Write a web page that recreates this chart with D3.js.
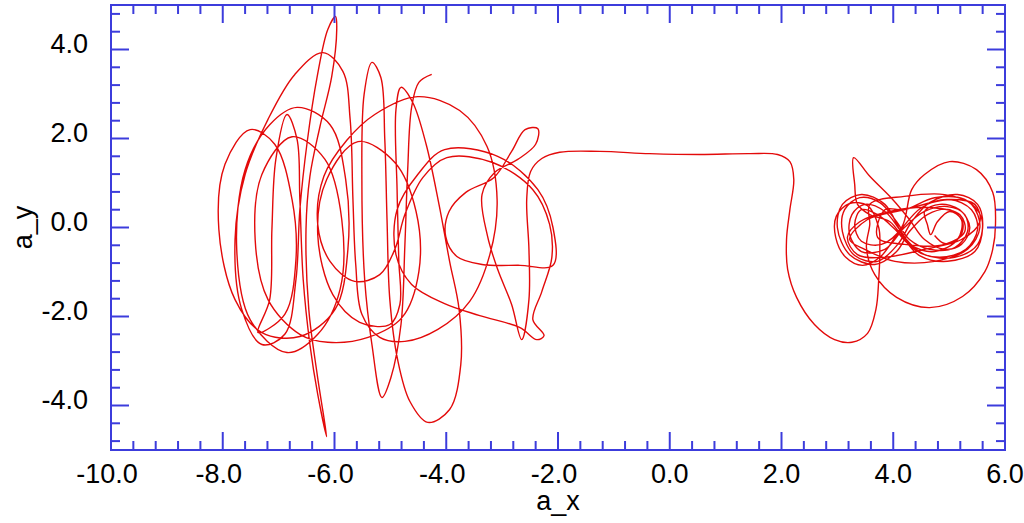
<!DOCTYPE html>
<html>
<head>
<meta charset="utf-8">
<script src="https://cdn.jsdelivr.net/npm/d3@7"></script>
<style>
  body { margin: 0; background: #fff; }
  text { font-family: "Liberation Sans", Arial, sans-serif; }
</style>
</head>
<body>
<div id="chart"></div>
<script>
// trajectory (a_x, a_y), in order
var leftCluster = [
  [-4.26,3.44],[-4.49,3.26],[-4.62,2.70],[-4.69,1.30],[-4.74,-0.38],[-4.81,-2.18],[-4.99,-3.37],[-5.15,-3.82],
  [-5.33,-2.63],[-5.46,-1.17],[-5.51,1.08],[-5.47,2.99],[-5.33,3.71],[-5.17,3.37],[-5.10,1.98],[-5.06,0.18],
  [-5.01,-1.62],[-4.87,-2.97],[-4.65,-3.91],[-4.33,-4.38],[-3.94,-4.09],[-3.74,-3.08],[-3.77,-1.84],[-3.94,-0.76],
  [-4.13,0.52],[-4.36,1.87],[-4.60,2.81],[-4.81,3.15],[-4.90,2.65],[-4.88,0.85],[-4.85,-0.72],[-4.83,-1.73],
  [-5.01,-2.18],[-5.55,-2.13],[-6.03,-1.51],[-6.30,-0.16],[-6.14,1.08],[-5.58,1.93],[-4.92,1.46],[-4.54,0.36],
  [-4.49,-0.99],[-4.79,-2.02],[-5.40,-2.47],
  [-6.12,-2.58],[-6.62,-2.40],[-7.19,-1.62],[-7.42,-0.27],[-7.30,1.19],[-6.76,2.04],[-6.17,1.53],[-5.87,0.18],
  [-5.90,-1.39],[-6.30,-2.40],[-6.85,-2.81],[-7.51,-2.07],[-7.75,-0.49],[-7.60,1.30],[-7.16,2.31],[-6.67,2.70],
  [-6.08,2.31],[-5.80,1.08],[-5.76,-0.49],[-5.99,-1.84],[-6.62,-2.45],[-7.30,-2.36],[-7.78,-1.62],[-8.07,-0.04],
  [-7.96,1.42],[-7.51,2.20],[-7.07,1.87],[-6.76,0.63],[-6.69,-0.72],[-6.89,-1.95],[-7.37,-2.36],
  [-7.16,-1.62],[-7.12,-0.04],[-7.05,1.53],[-6.85,2.54],[-6.67,1.98],[-6.62,0.63],
  [-6.56,-1.17],[-6.44,-2.63],[-6.30,-3.75],[-6.14,-4.70],[-6.31,-3.30],[-6.46,-1.84],[-6.51,-0.04],[-6.44,1.15],
  [-6.26,2.27],[-6.05,3.39],[-5.96,4.45],[-5.98,4.74],[-6.12,4.45],[-6.31,3.39],[-6.49,1.91],[-6.62,0.40],
  [-6.69,-1.17],[-6.89,-2.40],[-7.30,-2.63],[-7.66,-1.84],[-7.78,-0.27],[-7.60,1.19],[-7.19,2.43],[-6.71,3.44],
  [-6.21,3.93],[-5.85,3.51],[-5.72,2.43],[-5.67,0.63],[-5.62,-0.83],[-5.51,-1.95],
  [-5.19,-2.47],[-4.74,-2.56],[-4.15,-2.29],[-3.58,-1.66],[-3.22,-0.61],[-3.09,0.63],[-3.27,1.82],[-3.76,2.63],
  [-4.51,2.94],[-5.28,2.54],[-5.78,1.96],[-6.19,1.15],[-6.30,0.07],[-6.08,-0.76],[-5.64,-1.21],[-5.19,-1.06],
  [-4.92,-0.49],[-4.74,0.29],[-4.42,1.12],[-3.99,1.57],[-3.17,1.46],[-2.45,0.85],[-2.15,0.07],[-2.11,-0.67],
  [-2.29,-1.44],[-2.45,-2.07],[-2.25,-2.43],[-2.38,-2.52],[-2.68,-2.25],[-3.40,-1.98],[-4.03,-1.71],[-4.62,-1.28],
  [-4.90,-0.61],[-4.88,0.40],[-4.51,1.19],[-4.03,1.75],[-3.08,1.60],[-2.36,0.85],[-2.09,0.00],[-2.09,-0.85],
  [-2.68,-0.85],[-3.36,-0.83],[-3.81,-0.65],[-4.01,-0.20],[-3.95,0.36],[-3.65,0.79],[-3.15,1.12],[-2.83,1.71],
  [-2.59,2.20],[-2.36,2.22],[-2.40,1.87],[-2.72,1.53],[-3.13,1.24],[-3.36,0.74],[-3.26,-0.20],[-3.08,-0.94],
  [-2.83,-1.73],[-2.65,-2.52]
];

var bridge = [
  [-2.52,-1.62],[-2.52,-0.49],[-2.56,0.63],[-2.49,1.26],[-2.29,1.55],[-1.97,1.69],[-1.25,1.71],[-0.36,1.66],
  [0.54,1.64],[1.43,1.66],[1.93,1.64],[2.15,1.48],[2.22,1.08],[2.15,0.40],[2.09,-0.27],[2.11,-0.94],
  [2.27,-1.57],[2.59,-2.18],[2.95,-2.52],[3.26,-2.58],[3.54,-2.38],[3.69,-1.84],[3.74,-1.17],[3.76,-0.49]
];

var attractor = [
  [3.74,0.00],[3.54,0.49],[3.22,0.54],[2.98,0.25],[2.97,-0.22],[3.15,-0.67],[3.45,-0.85],[3.76,-0.67],[4.11,-0.09],
  [4.51,0.45],[5.01,0.63],[5.40,0.40],[5.51,-0.04],[5.30,-0.49],[4.83,-0.67],[4.38,-0.49],[4.11,-0.04],
  [3.85,0.36],[3.49,0.52],[3.26,0.29],[3.22,-0.16],[3.43,-0.54],[3.85,-0.49],[4.20,0.00],
  [4.56,0.36],[4.97,0.47],[5.28,0.29],[5.33,-0.09],[5.10,-0.45],[4.65,-0.49],[4.29,-0.27],[4.06,0.13],
  [3.76,0.56],[3.40,0.67],[3.13,0.40],[3.09,-0.09],[3.31,-0.63],[3.72,-0.76],[4.08,-0.38],[4.33,0.13],
  [4.65,0.56],[5.15,0.74],[5.51,0.52],[5.60,0.00],[5.46,-0.54],[4.97,-0.76],[4.47,-0.63],[4.20,-0.27],
  [3.94,0.13],[3.58,0.29],[3.36,0.52],[3.31,0.97],[3.29,1.57],[3.58,1.15],[3.99,0.63],[4.29,0.18],
  [4.56,-0.27],[4.92,-0.49],[5.22,-0.38],[5.37,0.00],[5.19,0.40],[4.83,0.52],[4.56,0.36],[4.61,0.07],
  [4.67,-0.16],[4.79,0.13],[5.01,0.36],[5.22,0.18],[5.15,-0.27],[4.74,-0.54],[4.29,-0.38],[4.03,-0.04],
  [3.72,0.29],[3.43,0.40],[3.31,0.07],[3.43,-0.31],[3.79,-0.38],[4.15,0.00],
  [4.33,0.85],[4.56,1.19],[5.01,1.48],[5.49,1.30],[5.78,0.79],[5.83,0.07],[5.78,-0.49],[5.64,-0.99],
  [5.24,-1.55],[4.65,-1.80],[4.06,-1.57],[3.67,-1.06],[3.52,-0.45],[3.58,0.07],
  [3.58,0.52],[4.20,0.70],[4.92,0.74],[5.40,0.52],[5.55,0.00],[5.33,-0.49],[4.74,-0.76],[4.03,-0.76],
  [3.49,-0.49],[3.22,-0.27],[3.54,0.18],[4.20,0.40],[5.01,0.63],[5.46,0.52],[5.55,0.13],[5.22,-0.27],
  [4.56,-0.49],[3.85,-0.67],[3.36,-0.61],[3.18,-0.22],[3.40,0.13],[3.94,0.36],[4.65,0.45],[5.19,0.29],
  [5.28,-0.09],[4.92,-0.38],[4.20,-0.38],[3.72,-0.22],[3.85,0.40],
  [4.20,0.40],[4.74,0.67],[5.28,0.63],[5.58,0.22],[5.51,-0.38],[5.10,-0.67],[4.56,-0.61],[4.20,-0.22],
  [3.85,0.52],[3.43,0.74],[3.09,0.52],[3.00,0.00],[3.22,-0.61],[3.67,-0.83],[4.06,-0.54],[4.29,-0.09],
  [4.61,0.29],[5.01,0.40],[5.24,0.13],[5.19,-0.22],[4.92,-0.36],[4.74,-0.18]
];

var xDomain = [-10, 6];
var yDomain = [-5, 5];
var xTickLabels = [-10, -8, -6, -4, -2, 0, 2, 4, 6];
var yTickLabels = [-4, -2, 0, 2, 4];

var width = 1024, height = 523;
var pLeft = 111, pRight = 1005, pTop = 5, pBottom = 450;
var axisColor = "#3c3cdc";

var svg = d3.select("#chart").append("svg")
    .attr("width", width)
    .attr("height", height);

var x = d3.scaleLinear().domain(xDomain).range([pLeft, pRight]);
var y = d3.scaleLinear().domain(yDomain).range([pBottom, pTop]);

svg.append("clipPath").attr("id", "plot")
  .append("rect")
    .attr("x", pLeft).attr("y", pTop)
    .attr("width", pRight - pLeft).attr("height", pBottom - pTop);

var line = d3.line()
    .x(function(d) { return x(d[0]); })
    .y(function(d) { return y(d[1]); })
    .curve(d3.curveCatmullRom.alpha(0.5));

var path = leftCluster.concat(bridge, attractor);

svg.append("path")
    .datum(path)
    .attr("clip-path", "url(#plot)")
    .attr("fill", "none")
    .attr("stroke", "#e30a0a")
    .attr("stroke-width", 1.4)
    .attr("d", line);

// ticks every 0.4, long ones every 2, all pointing inwards on four sides
var xt = d3.range(-25, 16).map(function(k) { return { v: k * 0.4, major: k % 5 === 0 }; });
var yt = d3.range(-12, 13).map(function(k) { return { v: k * 0.4, major: k % 5 === 0 }; });
var ticks = svg.append("g")
    .attr("stroke", axisColor)
    .attr("stroke-width", 2);

xt.forEach(function(t) {
  var len = t.major ? 18 : 9;
  ticks.append("line").attr("x1", x(t.v)).attr("x2", x(t.v)).attr("y1", pBottom).attr("y2", pBottom - len);
  ticks.append("line").attr("x1", x(t.v)).attr("x2", x(t.v)).attr("y1", pTop).attr("y2", pTop + len);
});
yt.forEach(function(t) {
  var len = t.major ? 18 : 9;
  ticks.append("line").attr("y1", y(t.v)).attr("y2", y(t.v)).attr("x1", pLeft).attr("x2", pLeft + len);
  ticks.append("line").attr("y1", y(t.v)).attr("y2", y(t.v)).attr("x1", pRight).attr("x2", pRight - len);
});

svg.append("rect")
    .attr("x", pLeft).attr("y", pTop)
    .attr("width", pRight - pLeft).attr("height", pBottom - pTop)
    .attr("fill", "none")
    .attr("stroke", axisColor)
    .attr("stroke-width", 2);

svg.selectAll(".xlab")
  .data(xTickLabels)
  .enter().append("text")
    .attr("class", "xlab")
    .attr("x", function(d) { return x(d); })
    .attr("dx", function(d) { return d < 0 ? -4 : 0; })
    .attr("y", 483)
    .attr("text-anchor", "middle")
    .attr("font-size", 27)
    .text(function(d) { return d.toFixed(1); });

svg.selectAll(".ylab")
  .data(yTickLabels)
  .enter().append("text")
    .attr("class", "ylab")
    .attr("x", 88)
    .attr("y", function(d) { return y(d) + 3; })
    .attr("text-anchor", "end")
    .attr("font-size", 27)
    .text(function(d) { return d.toFixed(1); });

svg.append("text")
    .attr("x", (pLeft + pRight) / 2)
    .attr("y", 510)
    .attr("text-anchor", "middle")
    .attr("font-size", 27)
    .text("a_x");

svg.append("text")
    .attr("transform", "translate(32," + ((pTop + pBottom) / 2) + ") rotate(-90)")
    .attr("text-anchor", "middle")
    .attr("font-size", 27)
    .text("a_y");
</script>
</body>
</html>
